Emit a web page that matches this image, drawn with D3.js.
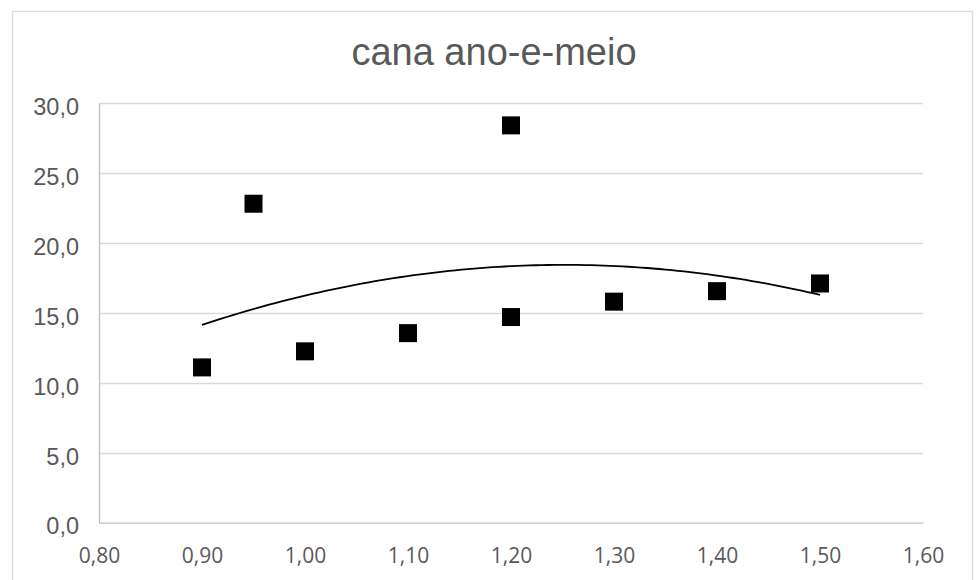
<!DOCTYPE html>
<html><head><meta charset="utf-8">
<script src="https://cdn.jsdelivr.net/npm/d3@7"></script>
<style>body{margin:0;background:#fff}svg{display:block}</style>
</head><body>
<script>
const title = "cana ano-e-meio";
const xValues = [0.90, 0.95, 1.00, 1.10, 1.20, 1.20, 1.30, 1.40, 1.50];
const yValues = [11.1, 22.8, 12.25, 13.55, 14.7, 28.4, 15.8, 16.55, 17.1];
const xTicks = [0.8, 0.9, 1.0, 1.1, 1.2, 1.3, 1.4, 1.5, 1.6];
const yTicks = [0, 5, 10, 15, 20, 25, 30];

const W = 980, H = 580;
const svg = d3.select("body").append("svg").attr("width", W).attr("height", H);
svg.append("rect").attr("x", 12.5).attr("y", 11.5).attr("width", 960).attr("height", 580)
  .attr("fill", "#fff").attr("stroke", "#d9d9d9").attr("stroke-width", 1.3);

const x = d3.scaleLinear().domain([0.8, 1.6]).range([99, 923]);
const y = d3.scaleLinear().domain([0, 30]).range([522.7, 103]);

// gridlines
svg.append("g").selectAll("line").data(yTicks.filter(d => d > 0)).join("line")
  .attr("x1", x(0.8)).attr("x2", x(1.6))
  .attr("y1", d => Math.round(y(d)) + 0.5).attr("y2", d => Math.round(y(d)) + 0.5)
  .attr("stroke", "#d9d9d9").attr("stroke-width", 1.3);

// axes
const fmtY = d => d3.format(".1f")(d).replace(".", ",");
const fmtX = d => d3.format(".2f")(d).replace(".", ",");
const yAxis = svg.append("g").attr("transform", `translate(${x(0.8)},0)`)
  .call(d3.axisLeft(y).tickValues(yTicks).tickFormat(fmtY).tickSize(0).tickPadding(20));
yAxis.select(".domain").attr("stroke", "#bfbfbf").attr("stroke-width", 1.3);
yAxis.selectAll("text")
  .style("font-family", "'Liberation Sans', Arial, sans-serif")
  .style("font-size", "23.5px").attr("fill", "#595959").attr("dy", "0.48em");

const xAxis = svg.append("g").attr("transform", `translate(0,${y(0)})`)
  .call(d3.axisBottom(x).tickValues(xTicks).tickFormat(fmtX).tickSize(0).tickPadding(25));
xAxis.select(".domain").attr("stroke", "#bfbfbf").attr("stroke-width", 1.3);
xAxis.selectAll("text")
  .style("font-family", "'Open Sans', 'Liberation Sans', sans-serif")
  .style("font-size", "21px").attr("fill", "#595959");

// quadratic least squares trendline
function polyfit2(xs, ys) {
  const n = xs.length;
  let S = [0,0,0,0,0], T = [0,0,0];
  for (let i = 0; i < n; i++) {
    for (let k = 0; k < 5; k++) S[k] += Math.pow(xs[i], k);
    for (let k = 0; k < 3; k++) T[k] += ys[i] * Math.pow(xs[i], k);
  }
  const A = [[S[0],S[1],S[2],T[0]],[S[1],S[2],S[3],T[1]],[S[2],S[3],S[4],T[2]]];
  for (let i = 0; i < 3; i++) {
    for (let j = i + 1; j < 3; j++) {
      const f = A[j][i] / A[i][i];
      for (let k = i; k < 4; k++) A[j][k] -= f * A[i][k];
    }
  }
  const c = [0,0,0];
  for (let i = 2; i >= 0; i--) {
    let s = A[i][3];
    for (let k = i + 1; k < 3; k++) s -= A[i][k] * c[k];
    c[i] = s / A[i][i];
  }
  return c;
}
const c = polyfit2(xValues, yValues);
const xmin = d3.min(xValues), xmax = d3.max(xValues);
const trend = d3.range(0, 101).map(i => {
  const xv = xmin + (xmax - xmin) * i / 100;
  return [xv, c[0] + c[1] * xv + c[2] * xv * xv];
});
svg.append("path").datum(trend)
  .attr("d", d3.line().x(d => x(d[0])).y(d => y(d[1])).curve(d3.curveLinear))
  .attr("fill", "none").attr("stroke", "#000").attr("stroke-width", 1.8);

// markers
const s = 18;
svg.append("g").selectAll("rect").data(xValues.map((v, i) => [v, yValues[i]])).join("rect")
  .attr("x", d => x(d[0]) - s / 2).attr("y", d => y(d[1]) - s / 2)
  .attr("width", s).attr("height", s).attr("fill", "#000");

// title
svg.append("text").attr("x", 494).attr("y", 65).attr("text-anchor", "middle")
  .style("font-family", "'Liberation Sans', Arial, sans-serif")
  .style("font-size", "38px").attr("fill", "#595959").text(title);
</script>
</body></html>
